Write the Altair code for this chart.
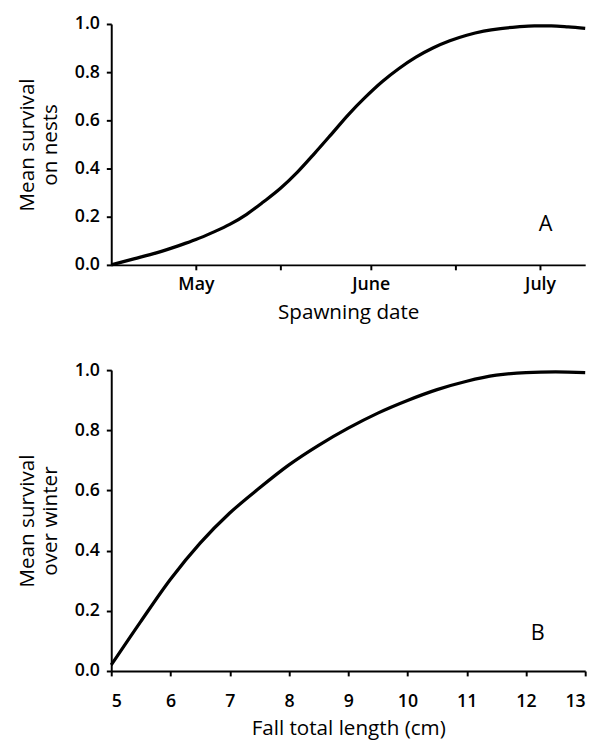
import altair as alt
import pandas as pd

# ---- Panel A: survival on nests vs spawning date (day of year) ----
days_A = [106, 110, 114, 118, 121, 124, 127, 130, 133, 136, 139, 142, 145, 148,
          151, 154, 157, 160, 163, 166, 169, 172, 175, 178, 181, 184, 187, 190]
surv_A = [0.0, 0.025, 0.05, 0.08, 0.105, 0.135, 0.168, 0.21, 0.262, 0.318, 0.385,
          0.462, 0.542, 0.623, 0.695, 0.76, 0.815, 0.862, 0.9, 0.93, 0.953, 0.97,
          0.981, 0.988, 0.992, 0.992, 0.988, 0.982]

# ---- Panel B: overwinter survival vs fall total length ----
length_B = [5.0, 5.5, 6.0, 6.5, 7.0, 7.5, 8.0, 8.5, 9.0, 9.5, 10.0, 10.5, 11.0,
            11.5, 12.0, 12.5, 13.0]
surv_B = [0.02, 0.165, 0.305, 0.425, 0.525, 0.608, 0.685, 0.75, 0.807, 0.857, 0.899,
          0.935, 0.963, 0.983, 0.992, 0.994, 0.992]

# ---- axes ----
month_ticks = [121, 136, 152, 167, 182]
month_labels = ["May", "", "June", "", "July"]
y_ticks = [0.0, 0.2, 0.4, 0.6, 0.8, 1.0]
length_ticks = [5, 6, 7, 8, 9, 10, 11, 12, 13]

# ---- panel letters ----
letter_A = ["A"]
letter_A_day = [183]
letter_A_surv = [0.17]
letter_B = ["B"]
letter_B_len = [12.2]
letter_B_surv = [0.126]

FONT = "Open Sans"

dfA = pd.DataFrame({"day": days_A, "surv": surv_A})
dfB = pd.DataFrame({"length": length_B, "surv": surv_B})
dfA_lab = pd.DataFrame({"day": letter_A_day, "surv": letter_A_surv, "label": letter_A})
dfB_lab = pd.DataFrame({"length": letter_B_len, "surv": letter_B_surv, "label": letter_B})

label_expr = " : ".join(
    f"datum.value == {v} ? '{l}'" for v, l in zip(month_ticks, month_labels)
) + " : ''"

xA = alt.X("day:Q", scale=alt.Scale(domain=[106, 190], nice=False, zero=False),
           axis=alt.Axis(values=month_ticks, labelExpr=label_expr, title="Spawning date",
                         labelPadding=6, titlePadding=9))
yA = alt.Y("surv:Q", scale=alt.Scale(domain=[0, 1], nice=False),
           axis=alt.Axis(values=y_ticks, format=".1f", title=["Mean survival", "on nests"]))

lineA = alt.Chart(dfA).mark_line(color="black", strokeWidth=3.3, interpolate="monotone").encode(x=xA, y=yA)
textA = alt.Chart(dfA_lab).mark_text(font=FONT, fontSize=22, color="black").encode(
    x=alt.X("day:Q"), y=alt.Y("surv:Q"), text="label:N")
top = (lineA + textA).properties(width=482, height=245)

xB = alt.X("length:Q", scale=alt.Scale(domain=[5, 13], nice=False, zero=False),
           axis=alt.Axis(values=length_ticks, format="d", title="Fall total length (cm)",
                         labelPadding=17, titlePadding=8))
yB = alt.Y("surv:Q", scale=alt.Scale(domain=[0, 1], nice=False),
           axis=alt.Axis(values=y_ticks, format=".1f", title=["Mean survival", "over winter"]))

lineB = alt.Chart(dfB).mark_line(color="black", strokeWidth=3.3, interpolate="monotone").encode(x=xB, y=yB)
textB = alt.Chart(dfB_lab).mark_text(font=FONT, fontSize=22, color="black").encode(
    x=alt.X("length:Q"), y=alt.Y("surv:Q"), text="label:N")
bottom = (lineB + textB).properties(width=482, height=306)

chart = alt.vconcat(top, bottom, spacing=39).properties(
    padding={"left": 8, "top": 1, "right": 5, "bottom": 0}
).configure_axis(
    grid=False,
    domainColor="black", domainWidth=2,
    tickColor="black", tickWidth=2, tickSize=5,
    labelColor="black", labelFont=FONT, labelFontSize=18, labelFontWeight=600,
    titleColor="black", titleFont=FONT, titleFontSize=21, titleFontWeight="normal",
    titleLineHeight=24,
).configure_axisY(
    labelPadding=7, titlePadding=14,
).configure_view(stroke=None)

chart.save("out.html", embed_options={"renderer": "svg", "actions": False})
